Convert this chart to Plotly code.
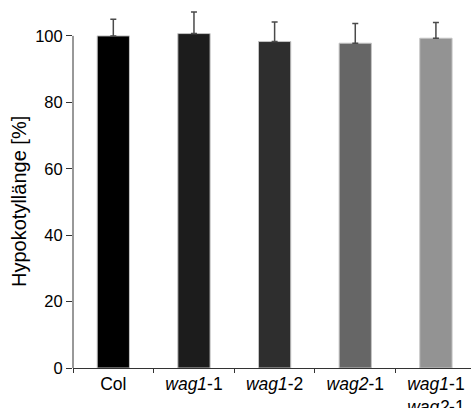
import plotly.graph_objects as go

categories = ["Col", "<i>wag1</i>-1", "<i>wag1</i>-2", "<i>wag2</i>-1", "<i>wag1</i>-1<br><i>wag2</i>-1"]
values = [100.0, 100.7, 98.3, 97.8, 99.3]
errors = [5.0, 6.5, 5.9, 5.9, 4.7]
bar_colors = ["#000000", "#1c1c1c", "#2e2e2e", "#666666", "#939393"]
y_ticks = [0, 20, 40, 60, 80, 100]
y_title = "Hypokotyllänge [%]"

FONT = "Liberation Sans, Arial, sans-serif"

fig = go.Figure(
    go.Bar(
        x=categories,
        y=values,
        width=0.4,
        marker=dict(color=bar_colors, line=dict(color="#c4c4c4", width=1)),
        error_y=dict(type="data", array=errors, symmetric=False, arrayminus=[0] * len(errors),
                     color="#4a4a4a", thickness=1.5, width=3),
    )
)

# y-axis line only spans the tick range (0..100)
fig.add_shape(type="line", xref="paper", yref="y", x0=0, x1=0, y0=min(y_ticks), y1=max(y_ticks),
              line=dict(color="#333333", width=1))

# y-axis title centred on the tick range
fig.add_annotation(
    text=y_title, textangle=-90, xref="paper", yref="y",
    x=0, y=(min(y_ticks) + max(y_ticks)) / 2, xanchor="center", yanchor="middle",
    xshift=-54, showarrow=False,
    font=dict(size=20, family=FONT, color="black"),
)

fig.update_layout(
    width=471,
    height=408,
    margin=dict(l=73, r=0, t=8, b=40, pad=0),
    plot_bgcolor="white",
    paper_bgcolor="white",
    showlegend=False,
    font=dict(family=FONT, color="black"),
)

fig.update_xaxes(
    range=[-0.5, 4.435],
    showline=True, linecolor="#333333", linewidth=1,
    ticks="outside", tickson="boundaries", ticklen=4, tickcolor="#333333",
    tickfont=dict(size=17.5, family=FONT, color="black"),
    showgrid=False, zeroline=False, automargin=False,
)

fig.update_yaxes(
    range=[0, 108.4],
    tickvals=y_ticks,
    showline=False,
    ticks="outside", ticklen=6, tickcolor="#333333",
    tickfont=dict(size=16.5, family=FONT, color="black"),
    showgrid=False, zeroline=False, automargin=False,
)

fig.write_html("out.html", config={"displayModeBar": False},
               post_script="document.body.style.margin='0px';document.body.style.padding='0px';")
